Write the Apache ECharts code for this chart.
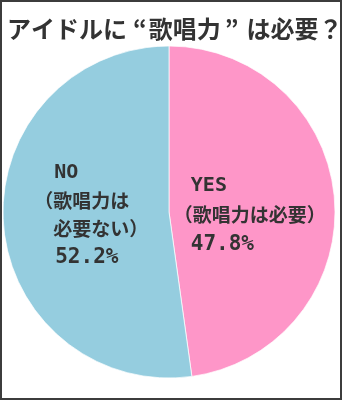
<!DOCTYPE html>
<html><head><meta charset="utf-8">
<script src="https://cdn.jsdelivr.net/npm/echarts@6/dist/echarts.min.js"></script>
<style>
html,body{margin:0;padding:0;background:#fff}
#chart{position:absolute;left:0;top:0;width:342px;height:400px}
#frame{position:absolute;left:0;top:0;width:342px;height:400px;box-sizing:border-box;border:2px solid #3c3c3c;pointer-events:none}
</style></head>
<body><div id="chart"></div><div id="frame"></div>
<script>
const titleParts = ['アイドルに', '“', '歌唱力', '”', 'は必要？'];
const categories = ['YES', 'NO'];
const subLines = [['（歌唱力は必要）'], ['（歌唱力は', '必要ない）']];
const shares = [47.8, 52.2];

const chart = echarts.init(document.getElementById('chart'), null, {renderer: 'canvas'});
const latin = 'DejaVu Sans Mono';
const cjk = '"Noto Sans CJK JP"';
const txt = '#333333';

function fmtYes(p) {
  const i = p.dataIndex;
  return '{en|' + categories[i] + '}\n{jp|' + subLines[i][0] + '}\n{num|' + shares[i].toFixed(1) + '%}';
}
function fmtNo(p) {
  const i = p.dataIndex;
  return '{en|' + categories[i] + '}\n{jp|' + subLines[i][0] + '}\n{jpI|' + subLines[i][1] + '}\n{num|' + shares[i].toFixed(1) + '%}';
}
const tStyle = {fontFamily: cjk, fontSize: 24, fontWeight: 'bold', color: txt};

const option = {
  animation: false,
  title: {
    text: '{t|' + titleParts[0] + '}{q1|' + titleParts[1] + '}{t|' + titleParts[2] + '}{q2|' + titleParts[3] + '}{t|' + titleParts[4] + '}',
    left: 2,
    top: 12,
    textStyle: {
      fontFamily: cjk, fontSize: 24, fontWeight: 'bold', color: txt,
      rich: {
        t: Object.assign({}, tStyle),
        q1: Object.assign({padding: [0, 2, 0, 6]}, tStyle),
        q2: Object.assign({padding: [0, 8, 0, 4]}, tStyle)
      }
    }
  },
  series: [{
    type: 'pie',
    center: [169, 212],
    radius: [0, 166],
    startAngle: 90,
    clockwise: true,
    silent: true,
    labelLine: {show: false},
    itemStyle: {borderColor: 'rgba(255,255,255,0.7)', borderWidth: 1},
    data: [
      {
        name: categories[0], value: shares[0],
        itemStyle: {color: '#fe96c8'},
        label: {
          show: true, position: 'inside',
          offset: [-5, 9.5],
          formatter: fmtYes,
          rich: {
            en: {align: 'left', fontFamily: latin, fontWeight: 'bold', fontSize: 20, color: txt, lineHeight: 29, padding: [0, 0, 0, 17]},
            jp: {align: 'left', fontFamily: cjk, fontWeight: 'bold', fontSize: 19, color: txt, lineHeight: 29},
            num: {align: 'left', fontFamily: latin, fontWeight: 'bold', fontSize: 21, color: txt, lineHeight: 31, padding: [0, 0, 0, 17]}
          }
        }
      },
      {
        name: categories[1], value: shares[1],
        itemStyle: {color: '#95cddf'},
        label: {
          show: true, position: 'inside',
          offset: [8, -2],
          formatter: fmtNo,
          rich: {
            en: {align: 'left', fontFamily: latin, fontWeight: 'bold', fontSize: 20, color: txt, lineHeight: 28, padding: [0, 0, 0, 20]},
            jp: {align: 'left', fontFamily: cjk, fontWeight: 'bold', fontSize: 19, color: txt, lineHeight: 28},
            jpI: {align: 'left', fontFamily: cjk, fontWeight: 'bold', fontSize: 19, color: txt, lineHeight: 28, padding: [0, 0, 0, 19]},
            num: {align: 'left', fontFamily: latin, fontWeight: 'bold', fontSize: 21, color: txt, lineHeight: 30, padding: [0, 0, 0, 21]}
          }
        }
      }
    ]
  }]
};
chart.setOption(option);
</script>
</body></html>
